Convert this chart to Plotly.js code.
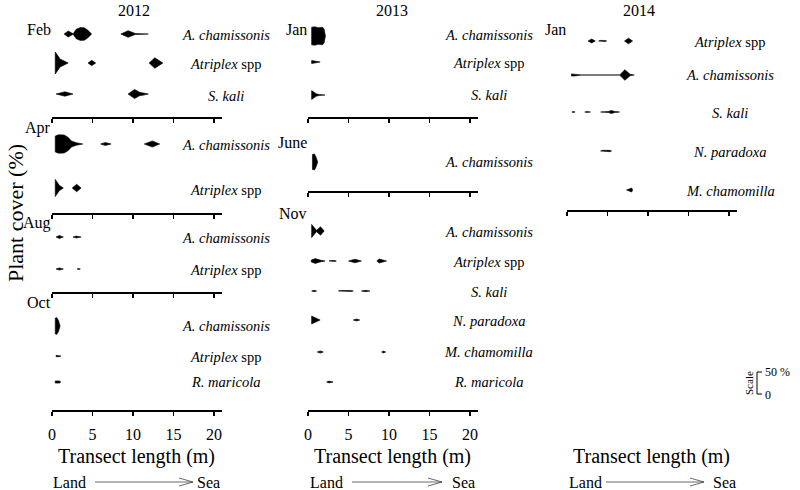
<!DOCTYPE html>
<html><head><meta charset="utf-8">
<script src="https://cdn.plot.ly/plotly-3.0.1.min.js"></script>
<style>html,body{margin:0;padding:0;background:#fff}</style>
</head><body>
<div id="chart" style="width:800px;height:490px"></div>
<script>
// ---------------- DATA ----------------
// positions along transect (m) and plant cover (%); null separates kites
const years = ['2012', '2013', '2014'];
const months2012 = ['Feb', 'Apr', 'Aug', 'Oct'];
const months2013 = ['Jan', 'June', 'Nov'];
const months2014 = ['Jan'];
const tickValues = [0, 5, 10, 15, 20];

const spAcham = '<i>A. chamissonis</i>';
const spAtrip = '<i>Atriplex</i> spp';
const spSkali = '<i>S. kali</i>';
const spNpar = '<i>N. paradoxa</i>';
const spMcham = '<i>M. chamomilla</i>';
const spRmar = '<i>R. maricola</i>';

// 2012 Feb
const feb12AchamPos = [1.5, 2.0, 2.6, 3.0, 3.5, 4.0, 4.4, 4.9, null, 8.5, 9.4, 10.3, 11.2, 11.9];
const feb12AchamCov = [0, 14, 1, 22, 29, 28, 18, 0, null, 0, 15, 2, 1.5, 0];
const feb12AtripPos = [0.4, 1.0, 2.0, null, 4.45, 4.9, 5.4, null, 12.0, 12.7, 13.7];
const feb12AtripCov = [50, 18, 0, null, 0, 12, 0, null, 0, 24, 0];
const feb12SkaliPos = [0.5, 1.6, 2.6, null, 9.4, 10.2, 10.8, 11.2, 11.9];
const feb12SkaliCov = [0, 10, 0, null, 0, 21, 8, 6, 0];
// 2012 Apr
const apr12AchamPos = [0.4, 0.8, 1.5, 2.0, 2.4, 3.0, 3.8, null, 6.0, 6.6, 7.3, null, 11.4, 12.4, 13.3];
const apr12AchamCov = [36, 42, 41, 30, 14, 6, 0, null, 0, 7, 0, null, 0, 14, 0];
const apr12AtripPos = [0.4, 0.9, 1.4, null, 2.5, 3.05, 3.6];
const apr12AtripCov = [39, 12, 0, null, 0, 17, 0];
// 2012 Aug
const aug12AchamPos = [0.5, 0.9, 1.4, null, 2.6, 3.0, 3.6];
const aug12AchamCov = [0, 7, 0, null, 0, 4, 0];
const aug12AtripPos = [0.5, 0.9, 1.4, null, 3.1, 3.3, 3.5];
const aug12AtripCov = [0, 5, 0, null, 0, 2, 0];
// 2012 Oct
const oct12AchamPos = [0.4, 0.6, 0.8, 1.0];
const oct12AchamCov = [36, 38, 25, 0];
const oct12AtripPos = [0.5, 0.9, 1.1];
const oct12AtripCov = [3, 3, 0];
const oct12RmarPos = [0.4, 0.9, 1.1];
const oct12RmarCov = [5, 5, 0];
// 2013 Jan
const jan13AchamPos = [0.45, 0.8, 1.3, 1.8, 2.0, 2.15];
const jan13AchamCov = [40, 42, 38, 40, 30, 0];
const jan13AtripPos = [0.45, 1.5];
const jan13AtripCov = [7, 0];
const jan13SkaliPos = [0.45, 1.0, 1.4, 2.1];
const jan13SkaliCov = [20, 6, 2, 0];
// 2013 June
const jun13AchamPos = [0.55, 0.8, 1.0, 1.2];
const jun13AchamCov = [34, 36, 22, 0];
// 2013 Nov
const nov13AchamPos = [0.45, 1.05, 1.55, 2.0];
const nov13AchamCov = [30, 3, 19, 0];
const nov13AtripPos = [0.4, 0.9, 1.5, 2.1, null, 2.6, 2.8, 3.3, 3.5, null, 5.0, 5.8, 6.6, null, 8.5, 8.8, 9.7];
const nov13AtripCov = [4, 11, 4, 0, null, 0, 2, 2, 0, null, 0, 8, 0, null, 0, 9, 0];
const nov13SkaliPos = [0.45, 0.75, 1.07, null, 3.75, 4.0, 5.3, 5.6, null, 6.6, 7.1, 7.65];
const nov13SkaliCov = [0, 3, 0, null, 0, 2, 2, 0, null, 0, 3, 0];
const nov13NparPos = [0.45, 1.5, null, 5.6, 6.0, 6.4];
const nov13NparCov = [18, 0, null, 0, 4, 0];
const nov13MchamPos = [1.15, 1.5, 1.9, null, 9.1, 9.3, 9.6];
const nov13MchamCov = [0, 5, 0, null, 0, 4, 0];
const nov13RmarPos = [2.3, 2.6, 3.1];
const nov13RmarCov = [0, 4, 0];
// 2014 Jan
const jan14AtripPos = [2.6, 3.05, 3.5, null, 3.9, 4.1, 4.7, 4.9, null, 7.1, 7.6, 8.1];
const jan14AtripCov = [0, 9, 0, null, 0, 2.5, 2.5, 0, null, 0, 13, 0];
const jan14AchamPos = [0.55, 1.0, 1.8, 6.5, 7.15, 7.8, 8.3];
const jan14AchamCov = [5, 4, 0.4, 0.4, 24, 3, 0];
const jan14SkaliPos = [0.6, 0.8, 1.0, null, 2.2, 2.5, 2.9, null, 4.15, 5.1, 5.5, 5.9, 6.5];
const jan14SkaliCov = [0, 2, 0, null, 0, 2, 0, null, 0, 2.5, 7, 2, 0];
const jan14NparPos = [4.15, 4.4, 5.3, 5.5];
const jan14NparCov = [0, 3, 3, 0];
const jan14MchamPos = [7.35, 8.0, 8.1];
const jan14MchamCov = [0, 9, 0];

// ---------------- LAYOUT CONFIG (pixel geometry) ----------------
const W = 800, H = 490;
const K = 0.22;            // px per % cover on each side (scale bar: 50 % = 22 px full width)
const FONT = 'Liberation Serif';

const panels = [
  { year: years[0], px: [52, 222], yearX: 134, labelX: 226, subs: [
    { month: months2012[0], top: 20, bottom: 117, monthY: 29, rows: [
      { sp: spAcham, y: 34, ly: 35, pos: feb12AchamPos, cov: feb12AchamCov },
      { sp: spAtrip, y: 63, ly: 64, pos: feb12AtripPos, cov: feb12AtripCov },
      { sp: spSkali, y: 94, ly: 96, pos: feb12SkaliPos, cov: feb12SkaliCov } ] },
    { month: months2012[1], top: 117, bottom: 213, monthY: 128, rows: [
      { sp: spAcham, y: 144, ly: 145, pos: apr12AchamPos, cov: apr12AchamCov },
      { sp: spAtrip, y: 188, ly: 190, pos: apr12AtripPos, cov: apr12AtripCov } ] },
    { month: months2012[2], top: 213, bottom: 292, monthY: 223, rows: [
      { sp: spAcham, y: 237, ly: 238, pos: aug12AchamPos, cov: aug12AchamCov },
      { sp: spAtrip, y: 269, ly: 270, pos: aug12AtripPos, cov: aug12AtripCov } ] },
    { month: months2012[3], top: 292, bottom: 410, monthY: 302, rows: [
      { sp: spAcham, y: 326, ly: 326, pos: oct12AchamPos, cov: oct12AchamCov },
      { sp: spAtrip, y: 356, ly: 357, pos: oct12AtripPos, cov: oct12AtripCov },
      { sp: spRmar, y: 382, ly: 382, pos: oct12RmarPos, cov: oct12RmarCov } ] } ] },
  { year: years[1], px: [308, 478], yearX: 392, labelX: 489, subs: [
    { month: months2013[0], top: 20, bottom: 117, monthY: 29, rows: [
      { sp: spAcham, y: 36, ly: 35, pos: jan13AchamPos, cov: jan13AchamCov },
      { sp: spAtrip, y: 62, ly: 63, pos: jan13AtripPos, cov: jan13AtripCov },
      { sp: spSkali, y: 95, ly: 95, pos: jan13SkaliPos, cov: jan13SkaliCov } ] },
    { month: months2013[1], top: 117, bottom: 191, monthY: 142, rows: [
      { sp: spAcham, y: 162, ly: 162, pos: jun13AchamPos, cov: jun13AchamCov } ] },
    { month: months2013[2], top: 191, bottom: 410, monthY: 213, rows: [
      { sp: spAcham, y: 231, ly: 232, pos: nov13AchamPos, cov: nov13AchamCov },
      { sp: spAtrip, y: 261, ly: 262, pos: nov13AtripPos, cov: nov13AtripCov },
      { sp: spSkali, y: 291, ly: 292, pos: nov13SkaliPos, cov: nov13SkaliCov },
      { sp: spNpar, y: 320, ly: 321, pos: nov13NparPos, cov: nov13NparCov },
      { sp: spMcham, y: 352, ly: 352, pos: nov13MchamPos, cov: nov13MchamCov },
      { sp: spRmar, y: 382, ly: 382, pos: nov13RmarPos, cov: nov13RmarCov } ] } ] },
  { year: years[2], px: [567, 737], yearX: 639, labelX: 730, subs: [
    { month: months2014[0], top: 20, bottom: 210, monthY: 29, rows: [
      { sp: spAtrip, y: 41, ly: 42, pos: jan14AtripPos, cov: jan14AtripCov },
      { sp: spAcham, y: 75, ly: 75, pos: jan14AchamPos, cov: jan14AchamCov },
      { sp: spSkali, y: 112, ly: 113, pos: jan14SkaliPos, cov: jan14SkaliCov },
      { sp: spNpar, y: 151, ly: 152, pos: jan14NparPos, cov: jan14NparCov },
      { sp: spMcham, y: 190, ly: 191, pos: jan14MchamPos, cov: jan14MchamCov } ] },
    { month: '', top: 210, bottom: 410, monthY: 0, rows: [] } ] }
];

const px2x = p => p / W;
const px2y = p => 1 - p / H;

function kitePolygon(pos, cov, base) {
  // split at nulls into separate kites; each kite is a closed polygon
  const xs = [], ys = [];
  let seg = [];
  const flush = () => {
    if (!seg.length) return;
    const up = seg.map(([x, c]) => [x, base - c * K]);
    const lo = seg.slice().reverse().map(([x, c]) => [x, base + c * K]);
    const all = up.concat(lo, [up[0]]);
    if (xs.length) { xs.push(null); ys.push(null); }
    all.forEach(([x, y]) => { xs.push(x); ys.push(y); });
    seg = [];
  };
  for (let i = 0; i < pos.length; i++) {
    if (pos[i] === null) { flush(); continue; }
    seg.push([pos[i], cov[i]]);
  }
  flush();
  return { xs, ys };
}

const traces = [];
const layout = {
  width: W, height: H,
  margin: { l: 0, r: 0, t: 0, b: 0 },
  paper_bgcolor: '#fff', plot_bgcolor: 'rgba(0,0,0,0)',
  showlegend: false,
  font: { family: FONT, color: '#000' },
  annotations: [], shapes: []
};

let n = 0;
panels.forEach(panel => {
  layout.annotations.push({
    xref: 'paper', yref: 'paper', x: px2x(panel.yearX), y: px2y(10),
    text: panel.year, showarrow: false, xanchor: 'center', yanchor: 'middle',
    font: { family: FONT, size: 16, color: '#000' }
  });
  panel.subs.forEach((sub, si) => {
    n += 1;
    const isBottom = si === panel.subs.length - 1;
    const xa = 'xaxis' + (n === 1 ? '' : n), ya = 'yaxis' + (n === 1 ? '' : n);
    const xid = 'x' + (n === 1 ? '' : n), yid = 'y' + (n === 1 ? '' : n);
    layout[xa] = {
      domain: [px2x(panel.px[0]), px2x(panel.px[1])], range: [0, 21], anchor: yid,
      showline: true, linecolor: '#000', linewidth: 1.6,
      ticks: 'outside', ticklen: 4, tickwidth: 1.6, tickcolor: '#000',
      tickmode: 'array', tickvals: tickValues, showticklabels: isBottom,
      ticklabelstandoff: 5,
      tickfont: { family: FONT, size: 16, color: '#000' },
      showgrid: false, zeroline: false, fixedrange: true
    };
    layout[ya] = {
      domain: [px2y(sub.bottom), px2y(sub.top)], range: [sub.bottom, sub.top], anchor: xid,
      visible: false, showgrid: false, zeroline: false, fixedrange: true
    };
    if (sub.month) {
      layout.annotations.push({
        xref: xid, yref: yid, x: 0, y: sub.monthY, text: sub.month, showarrow: false,
        xanchor: 'right', yanchor: 'middle', xshift: 1,
        font: { family: FONT, size: 16, color: '#000' }
      });
    }
    sub.rows.forEach(row => {
      const poly = kitePolygon(row.pos, row.cov, row.y);
      traces.push({
        type: 'scatter', mode: 'lines', x: poly.xs, y: poly.ys, xaxis: xid, yaxis: yid,
        fill: 'toself', fillcolor: '#000', line: { color: '#000', width: 0.6 },
        hoverinfo: 'skip', showlegend: false
      });
      layout.annotations.push({
        xref: 'paper', yref: yid, x: px2x(panel.labelX), y: row.ly, text: row.sp,
        showarrow: false, xanchor: 'center', yanchor: 'middle',
        font: { family: FONT, size: 14.5, color: '#000' }
      });
    });
    if (isBottom) {
      const cx = (panel.px[0] + panel.px[1]) / 2 - 1;
      layout.annotations.push({
        xref: 'paper', yref: 'paper', x: px2x(cx), y: px2y(456),
        text: 'Transect length (m)', showarrow: false, xanchor: 'center', yanchor: 'middle',
        font: { family: FONT, size: 20, color: '#000' }
      });
    }
  });
});

// Land -> Sea arrows
const arrows = [
  { land: 88, tail: 95, head: 193, sea: 195 },
  { land: 345, tail: 352, head: 442, sea: 450 },
  { land: 604, tail: 606, head: 704, sea: 711 }
];
const arrowY = 482;
arrows.forEach(a => {
  layout.annotations.push({
    xref: 'paper', yref: 'paper', x: px2x(a.land), y: px2y(arrowY), text: 'Land',
    showarrow: false, xanchor: 'right', yanchor: 'middle', font: { family: FONT, size: 16, color: '#000' }
  });
  layout.annotations.push({
    xref: 'paper', yref: 'paper', x: px2x(a.sea), y: px2y(arrowY), text: 'Sea',
    showarrow: false, xanchor: 'left', yanchor: 'middle', font: { family: FONT, size: 16, color: '#000' }
  });
  layout.shapes.push({
    type: 'line', xref: 'paper', yref: 'paper', x0: px2x(a.tail), x1: px2x(a.head),
    y0: px2y(arrowY), y1: px2y(arrowY), line: { color: '#444', width: 0.8 }
  });
  layout.shapes.push({
    type: 'path', xref: 'paper', yref: 'paper',
    path: 'M' + px2x(a.head - 14) + ',' + px2y(arrowY - 4) + ' L' + px2x(a.head) + ',' + px2y(arrowY) +
          ' L' + px2x(a.head - 14) + ',' + px2y(arrowY + 4),
    line: { color: '#444', width: 0.8 }
  });
});

// Y title
layout.annotations.push({
  xref: 'paper', yref: 'paper', x: px2x(15), y: px2y(213), text: 'Plant cover (%)',
  textangle: -90, showarrow: false, xanchor: 'center', yanchor: 'middle',
  font: { family: FONT, size: 22, color: '#000' }
});

// Scale bar: full kite width of a 50 % cover (= 2 * 50 * K px)
const scaleMid = 383;
const sT = scaleMid - 50 * K, sB = scaleMid + 50 * K;
layout.shapes.push({
  type: 'path', xref: 'paper', yref: 'paper',
  path: 'M' + px2x(762) + ',' + px2y(sT) + ' L' + px2x(757) + ',' + px2y(sT) +
        ' L' + px2x(757) + ',' + px2y(sB) + ' L' + px2x(762) + ',' + px2y(sB),
  line: { color: '#000', width: 1 }
});
layout.annotations.push({
  xref: 'paper', yref: 'paper', x: px2x(763), y: px2y(sT), text: '50 %', showarrow: false,
  xanchor: 'left', yanchor: 'middle', font: { family: FONT, size: 12, color: '#000' }
});
layout.annotations.push({
  xref: 'paper', yref: 'paper', x: px2x(763), y: px2y(sB + 1), text: '0', showarrow: false,
  xanchor: 'left', yanchor: 'middle', font: { family: FONT, size: 12, color: '#000' }
});
layout.annotations.push({
  xref: 'paper', yref: 'paper', x: px2x(749), y: px2y(scaleMid), text: 'Scale', showarrow: false,
  textangle: -90, xanchor: 'center', yanchor: 'middle', font: { family: FONT, size: 11, color: '#000' }
});

Plotly.newPlot('chart', traces, layout, { displayModeBar: false, staticPlot: true });
</script>
</body></html>
